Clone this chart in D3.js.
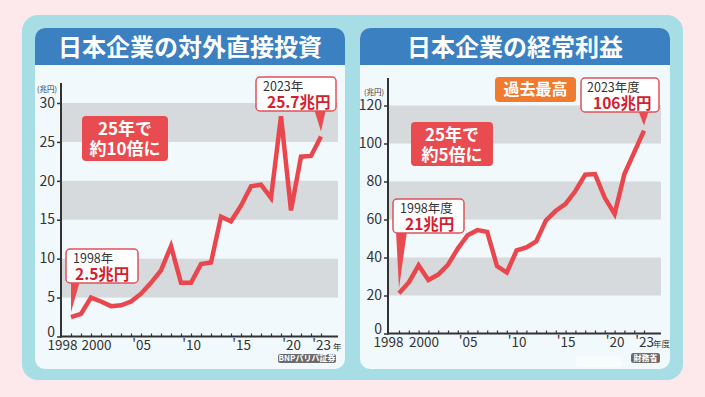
<!DOCTYPE html>
<html lang="ja">
<head>
    <meta charset="UTF-8">
    <title>日本企業の対外直接投資と経常利益</title>
    <script src="https://d3js.org/d3.v7.min.js"></script>
    <style>
        body { margin: 0; background: #fde8eb; }
        svg { display: block; font-family: "Noto Sans CJK JP", "Noto Sans", sans-serif; }
    </style>
</head>
<body>
<div id="chart"></div>
<script type="text/javascript">

    // data (兆円)
    var years = [1998, 1999, 2000, 2001, 2002, 2003, 2004, 2005, 2006, 2007, 2008, 2009, 2010,
                 2011, 2012, 2013, 2014, 2015, 2016, 2017, 2018, 2019, 2020, 2021, 2022, 2023];
    var fdiValues = [2.5, 2.9, 5.0, 4.5, 3.9, 4.0, 4.5, 5.5, 6.9, 8.5, 11.6, 6.9, 6.9,
                     9.3, 9.5, 15.4, 14.8, 16.8, 19.3, 19.5, 17.8, 28.3, 16.2, 23.1, 23.2, 25.7];
    var profitValues = [21.2, 26.9, 35.9, 28.2, 31.0, 36.2, 44.7, 51.7, 54.4, 53.5, 35.5, 32.1, 43.7,
                        45.3, 48.5, 59.6, 64.6, 68.2, 75.0, 83.6, 83.9, 71.4, 62.9, 83.9, 95.3, 106.8];

    var xTickYears = [1998, 2000, 2005, 2010, 2015, 2020, 2023];
    var xTickLabels = ["1998", "2000", "'05", "'10", "'15", "'20", "'23"];
    var fdiTicks = [0, 5, 10, 15, 20, 25, 30];
    var profitTicks = [0, 20, 40, 60, 80, 100, 120];
    var fdiBands = [[5, 10], [15, 20], [25, 30]];
    var profitBands = [[20, 40], [60, 80], [100, 120]];

    var width = 705;
    var height = 397;

    var lineColor = "#e9474d";
    var boxRed = "#e84b50";
    var textRed = "#d3202f";

    var svg = d3.select("#chart")
        .append("svg")
        .attr("width", width)
        .attr("height", height);

    // outer teal frame
    svg.append("rect")
        .attr("x", 22).attr("y", 15)
        .attr("width", 661).attr("height", 365)
        .attr("rx", 16)
        .style("fill", "#a7dee5");

    var panels = [
        {
            left: 35, right: 345, title: "日本企業の対外直接投資",
            values: fdiValues, ticks: fdiTicks, bands: fdiBands,
            yDomain: [0, 30], yRange: [336.5, 103], xRange: [71, 321],
            axisX: 61, axisEnd: 338, axisTop: 83, unit: "年", unitX: 333,
            firstLabelDx: [-9, 5],
            source: "BNPパリバ証券", sourceBox: [278, 354, 58, 9],
            unitLabel: [47, 92],
            bigBox: { x: 82, y: 116, w: 86, h: 45, lines: ["25年で", "約10倍に"] },
            startNote: { x: 66, y: 249, w: 72, h: 34, base: [71, 80], lines: ["1998年", "2.5兆円"], tx: [73, 75] },
            endNote: { x: 256, y: 77, w: 80, h: 34, base: [314, 326], lines: ["2023年", "25.7兆円"], tx: [263, 267] }
        },
        {
            left: 360, right: 670, title: "日本企業の経常利益",
            values: profitValues, ticks: profitTicks, bands: profitBands,
            yDomain: [0, 120], yRange: [333.5, 105.5], xRange: [399, 644],
            axisX: 388, axisEnd: 661, axisTop: 78, unit: "年度", unitX: 653,
            firstLabelDx: [-11, 5],
            source: "財務省", sourceBox: [631, 353, 29, 10],
            unitLabel: [374, 95],
            bigBox: { x: 411, y: 122, w: 82, h: 44, lines: ["25年で", "約5倍に"] },
            startNote: { x: 393, y: 199, w: 71, h: 34, base: [396, 407], lines: ["1998年度", "21兆円"], tx: [400, 405] },
            endNote: { x: 581, y: 78, w: 78, h: 34, base: [638, 649], lines: ["2023年度", "106兆円"], tx: [587, 593] }
        }
    ];

    panels.forEach(function(p) {
        var g = svg.append("g");

        // panel body and title bar
        g.append("rect")
            .attr("x", p.left).attr("y", 28)
            .attr("width", p.right - p.left).attr("height", 341)
            .attr("rx", 10)
            .style("fill", "#f1f9fc");
        g.append("rect")
            .attr("x", p.left).attr("y", 28)
            .attr("width", p.right - p.left).attr("height", 37)
            .attr("rx", 10)
            .style("fill", "#3b80c0");
        g.append("rect")
            .attr("x", p.left).attr("y", 50)
            .attr("width", p.right - p.left).attr("height", 15)
            .style("fill", "#3b80c0");
        g.append("text")
            .attr("x", (p.left + p.right) / 2).attr("y", 47)
            .attr("dy", "0.36em")
            .attr("text-anchor", "middle")
            .style("font-size", "24px")
            .style("font-weight", "bold")
            .style("fill", "#fff")
            .text(p.title);

        var x = d3.scaleLinear().domain([1998, 2023]).range(p.xRange);
        var y = d3.scaleLinear().domain(p.yDomain).range(p.yRange);
        var y0 = y(0);

        // grey bands
        g.selectAll(".band")
            .data(p.bands)
            .enter()
            .append("rect")
            .attr("x", p.axisX)
            .attr("y", function(d) { return y(d[1]); })
            .attr("width", p.axisEnd - p.axisX)
            .attr("height", function(d) { return y(d[0]) - y(d[1]); })
            .style("fill", "#d6dadd");

        // y axis
        var yAxis = d3.axisLeft(y).tickValues(p.ticks).tickSize(4).tickPadding(2);
        var ya = g.append("g")
            .attr("transform", "translate(" + p.axisX + ",0)")
            .call(yAxis);
        ya.select(".domain").remove();
        ya.selectAll("line").style("stroke", "#333").style("stroke-width", 1.5);
        ya.selectAll("text")
            .attr("dy", "0.3em")
            .attr("y", function(d) { return d === 0 ? -4 : 0; }) // zero sits a little above the axis
            .style("font-size", "14px")
            .style("font-family", "'Noto Sans CJK JP', sans-serif")
            .style("fill", "#333");

        // x axis: yearly ticks pointing up
        var xAxis = d3.axisBottom(x)
            .tickValues(years)
            .tickSizeInner(-3)
            .tickSizeOuter(0)
            .tickFormat(function(d) {
                var i = xTickYears.indexOf(d);
                return i >= 0 ? xTickLabels[i] : "";
            });
        var xa = g.append("g")
            .attr("transform", "translate(0," + y0 + ")")
            .call(xAxis);
        xa.select(".domain").remove();
        xa.selectAll("line").style("stroke", "#333").style("stroke-width", 1.2);
        xa.selectAll("text")
            .attr("y", 4)
            .style("font-size", "13.5px")
            .style("font-family", "'Noto Sans CJK JP', sans-serif")
            .style("fill", "#333")
            .attr("dx", function(d) {
                if (d === 1998) return p.firstLabelDx[0];
                if (d === 2000) return p.firstLabelDx[1];
                return 0;
            });

        // axis lines
        g.append("line")
            .attr("x1", p.axisX).attr("x2", p.axisX)
            .attr("y1", p.axisTop).attr("y2", y0 + 1)
            .style("stroke", "#333").style("stroke-width", 2);
        g.append("line")
            .attr("x1", p.axisX - 1).attr("x2", p.axisEnd)
            .attr("y1", y0).attr("y2", y0)
            .style("stroke", "#333").style("stroke-width", 2);

        g.append("text")
            .attr("x", p.unitX).attr("y", y0 + 13)
            .style("font-size", "8.5px")
            .style("fill", "#333")
            .text(p.unit);

        g.append("text")
            .attr("x", p.unitLabel[0]).attr("y", p.unitLabel[1])
            .attr("text-anchor", "middle")
            .style("font-size", "7.5px")
            .style("fill", "#333")
            .text("(兆円)");

        // the line
        var line = d3.line()
            .x(function(d, i) { return x(years[i]); })
            .y(function(d) { return y(d); });
        g.append("path")
            .datum(p.values)
            .attr("d", line)
            .style("fill", "none")
            .style("stroke", lineColor)
            .style("stroke-width", 4.5)
            .style("stroke-linejoin", "miter")
            .style("stroke-linecap", "butt");

        // red summary box
        var b = p.bigBox;
        g.append("rect")
            .attr("x", b.x).attr("y", b.y)
            .attr("width", b.w).attr("height", b.h)
            .attr("rx", 4)
            .style("fill", boxRed);
        b.lines.forEach(function(t, i) {
            g.append("text")
                .attr("x", b.x + b.w / 2)
                .attr("y", b.y + 13 + i * 20)
                .attr("dy", "0.36em")
                .attr("text-anchor", "middle")
                .style("font-size", "17px")
                .style("font-weight", "bold")
                .style("fill", "#fff")
                .text(t);
        });

        // callouts with pointers to first and last values
        function callout(n, tipYear, tipValue) {
            var tx = x(tipYear), ty = y(tipValue) - 5;
            g.append("path")
                .attr("d", "M" + n.base[0] + "," + (n.y + n.h - 2) + "L" + tx + "," + ty + "L" + n.base[1] + "," + (n.y + n.h - 2) + "Z")
                .style("fill", boxRed);
            g.append("rect")
                .attr("x", n.x).attr("y", n.y)
                .attr("width", n.w).attr("height", n.h)
                .attr("rx", 4)
                .style("fill", "#fff")
                .style("stroke", "#e0525a")
                .style("stroke-width", 1.5);
            g.append("text")
                .attr("x", n.tx[0]).attr("y", n.y + 9.5)
                .attr("dy", "0.36em")
                .style("font-size", "12.5px")
                .style("fill", "#333")
                .text(n.lines[0]);
            g.append("text")
                .attr("x", n.tx[1]).attr("y", n.y + 25.5)
                .attr("dy", "0.36em")
                .style("font-size", "15.5px")
                .style("font-weight", "bold")
                .style("fill", textRed)
                .text(n.lines[1]);
        }
        callout(p.startNote, years[0], p.values[0]);
        callout(p.endNote, years[years.length - 1], p.values[p.values.length - 1]);

        // source badge
        var s = p.sourceBox;
        g.append("rect")
            .attr("x", s[0]).attr("y", s[1])
            .attr("width", s[2]).attr("height", s[3])
            .attr("rx", 2.5)
            .style("fill", "#6b6b6b");
        g.append("text")
            .attr("x", s[0] + s[2] / 2).attr("y", s[1] + s[3] / 2)
            .attr("dy", "0.36em")
            .attr("text-anchor", "middle")
            .style("font-size", "8px")
            .style("font-weight", "bold")
            .style("fill", "#fff")
            .text(p.source);
    });

    // 過去最高 badge
    svg.append("rect")
        .attr("x", 495).attr("y", 77)
        .attr("width", 81).attr("height", 25)
        .attr("rx", 4)
        .style("fill", "#f07a2e");
    svg.append("text")
        .attr("x", 535.5).attr("y", 89.5)
        .attr("dy", "0.36em")
        .attr("text-anchor", "middle")
        .style("font-size", "16px")
        .style("font-weight", "bold")
        .style("fill", "#fff")
        .text("過去最高");

    // faint broadcaster watermark
    svg.append("rect")
        .attr("x", 575).attr("y", 356)
        .attr("width", 48).attr("height", 11)
        .attr("rx", 5.5)
        .style("fill", "#fff")
        .style("opacity", 0.45);
</script>
</body>
</html>
